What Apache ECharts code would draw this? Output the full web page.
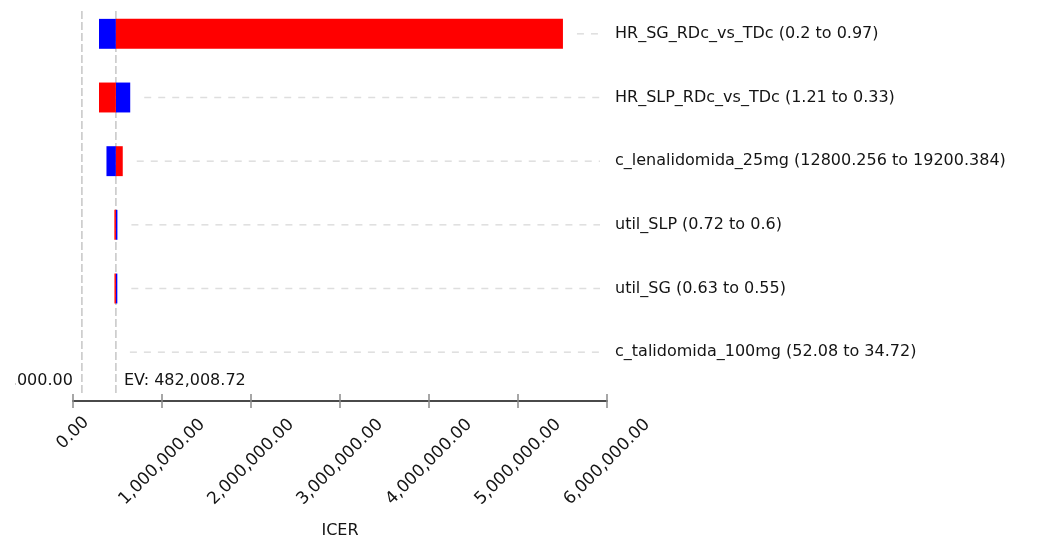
<!DOCTYPE html>
<html>
<head>
<meta charset="utf-8">
<title>Tornado diagram – ICER</title>
<script src="https://cdn.jsdelivr.net/npm/echarts@6/dist/echarts.min.js"></script>
<style>
  html, body { margin: 0; padding: 0; background: #ffffff; }
  #chart { width: 1052px; height: 541px; }
</style>
</head>
<body>
<div id="chart"></div>
<script>
// Parameters varied in the one-way sensitivity analysis (top to bottom)
const paramNames = ['HR_SG_RDc_vs_TDc', 'HR_SLP_RDc_vs_TDc', 'c_lenalidomida_25mg', 'util_SLP', 'util_SG', 'c_talidomida_100mg'];
const rangeFrom = ['0.2', '1.21', '12800.256', '0.72', '0.63', '52.08'];
const rangeTo = ['0.97', '0.33', '19200.384', '0.6', '0.55', '34.72'];

// ICER obtained at each end of the range (blue = first value, red = second value)
const icerFrom = [292000, 643000, 376000, 499000, 498000, 482008.72];
const icerTo = [5505000, 292000, 559000, 465000, 466000, 482008.72];

// Expected value (base case) and threshold reference line
const baseEV = 482008.72;
const thresholdValue = 100000;

// X axis ticks
const xMin = 0;
const xMax = 6000000;
const xStep = 1000000;

const FONT = 'DejaVu Sans';
const TEXT = '#141414';

const fmt2 = v => Number(v).toLocaleString('en-US', { minimumFractionDigits: 2, maximumFractionDigits: 2 });
const categoryLabels = paramNames.map((p, i) => `${p} (${rangeFrom[i]} to ${rangeTo[i]})`);

const barData = paramNames.map((_, i) => [i, icerFrom[i], icerTo[i]]);
const refData = [[thresholdValue, 0, 0], [baseEV, 0, 1]];
const refText = [fmt2(thresholdValue), 'EV: ' + fmt2(baseEV)];

const chart = echarts.init(document.getElementById('chart'), null, { renderer: 'canvas' });

chart.setOption({
  animation: false,
  backgroundColor: '#ffffff',
  textStyle: { fontFamily: FONT },
  grid: { left: 73, right: 445, top: 2, bottom: 157, containLabel: false, outerBoundsMode: 'none' },
  xAxis: [
    {
      type: 'value',
      min: xMin, max: xMax, interval: xStep,
      position: 'bottom',
      offset: 17,
      name: 'ICER',
      nameLocation: 'middle',
      nameGap: 122,
      nameTextStyle: { fontFamily: FONT, fontSize: 16, color: TEXT },
      axisLine: { show: true, lineStyle: { color: '#4a4a4a', width: 2 } },
      axisTick: { show: true, inside: false, length: 7, lineStyle: { color: '#8a8a8a', width: 1.5 } },
      splitLine: { show: false },
      axisLabel: {
        rotate: 45,
        align: 'center',
        verticalAlign: 'middle',
        margin: 61,
        fontFamily: FONT,
        fontSize: 17,
        color: TEXT,
        formatter: v => (v === 0 ? '{z|' + fmt2(v) + '}' : fmt2(v)),
        rich: { z: { fontFamily: FONT, fontSize: 17, color: TEXT, padding: [0, 0, 41, 41] } }
      }
    },
    {
      type: 'value',
      min: xMin, max: xMax, interval: xStep,
      position: 'bottom',
      offset: 17,
      axisLine: { show: false },
      axisTick: { show: true, inside: true, length: 7, lineStyle: { color: '#8a8a8a', width: 1.5 } },
      axisLabel: { show: false },
      splitLine: { show: false }
    }
  ],
  yAxis: {
    type: 'category',
    data: categoryLabels,
    inverse: true,
    position: 'right',
    axisLine: { show: false },
    axisTick: { show: false },
    splitLine: { show: false },
    axisLabel: { margin: 8, fontFamily: FONT, fontSize: 16, color: TEXT }
  },
  series: [
    {
      // dashed guide from the end of each bar to its label
      type: 'custom',
      name: 'guides',
      silent: true,
      z: 1,
      encode: { x: [1, 2], y: 0 },
      data: barData,
      renderItem: (params, api) => {
        const row = api.value(0);
        const far = Math.max(api.value(1), api.value(2), baseEV);
        const p = api.coord([far, row]);
        const cs = params.coordSys;
        return {
          type: 'line',
          shape: { x1: p[0] + 14, y1: p[1], x2: cs.x + cs.width - 7, y2: p[1] },
          style: { stroke: '#dedede', lineWidth: 1.5, lineDash: [7, 7] }
        };
      }
    },
    {
      // vertical reference lines with their labels
      type: 'custom',
      name: 'reference',
      silent: true,
      z: 2,
      encode: { x: 0, y: 1 },
      data: refData,
      renderItem: (params, api) => {
        const idx = params.dataIndex;
        const x = api.coord([api.value(0), 0])[0];
        const cs = params.coordSys;
        const top = cs.y + 9;
        const bottom = cs.y + cs.height + 9;
        const isEV = api.value(2) === 1;
        const label = {
          type: 'text',
          style: {
            x: isEV ? x + 8 : x - 9,
            y: cs.y + cs.height - 3.5,
            text: refText[idx],
            align: isEV ? 'left' : 'right',
            verticalAlign: 'middle',
            font: '16px "' + FONT + '"',
            fill: TEXT
          }
        };
        if (!isEV) {
          // the plot panel cuts this label off at its left inset
          label.clipPath = { type: 'rect', shape: { x: 15, y: 0, width: 1000, height: 541 } };
        }
        return {
          type: 'group',
          children: [
            {
              type: 'line',
              shape: { x1: x, y1: top, x2: x, y2: bottom },
              style: { stroke: '#c6c6c6', lineWidth: 1.5, lineDash: [8, 3] }
            },
            label
          ]
        };
      }
    },
    {
      // tornado bars drawn outward from the base-case EV
      type: 'custom',
      name: 'tornado',
      z: 3,
      encode: { x: [1, 2], y: 0 },
      data: barData,
      renderItem: (params, api) => {
        const row = api.value(0);
        const h = api.size([0, 1])[1] * 0.47;
        const ev = api.coord([baseEV, row]);
        const a = api.coord([api.value(1), row]);
        const b = api.coord([api.value(2), row]);
        const rect = (x1, x2, color) => ({
          type: 'rect',
          shape: { x: Math.min(x1, x2), y: ev[1] - h / 2, width: Math.abs(x2 - x1), height: h },
          style: { fill: color }
        });
        return {
          type: 'group',
          children: [rect(ev[0], a[0], '#0000ff'), rect(ev[0], b[0], '#ff0000')]
        };
      }
    }
  ]
});
</script>
</body>
</html>
